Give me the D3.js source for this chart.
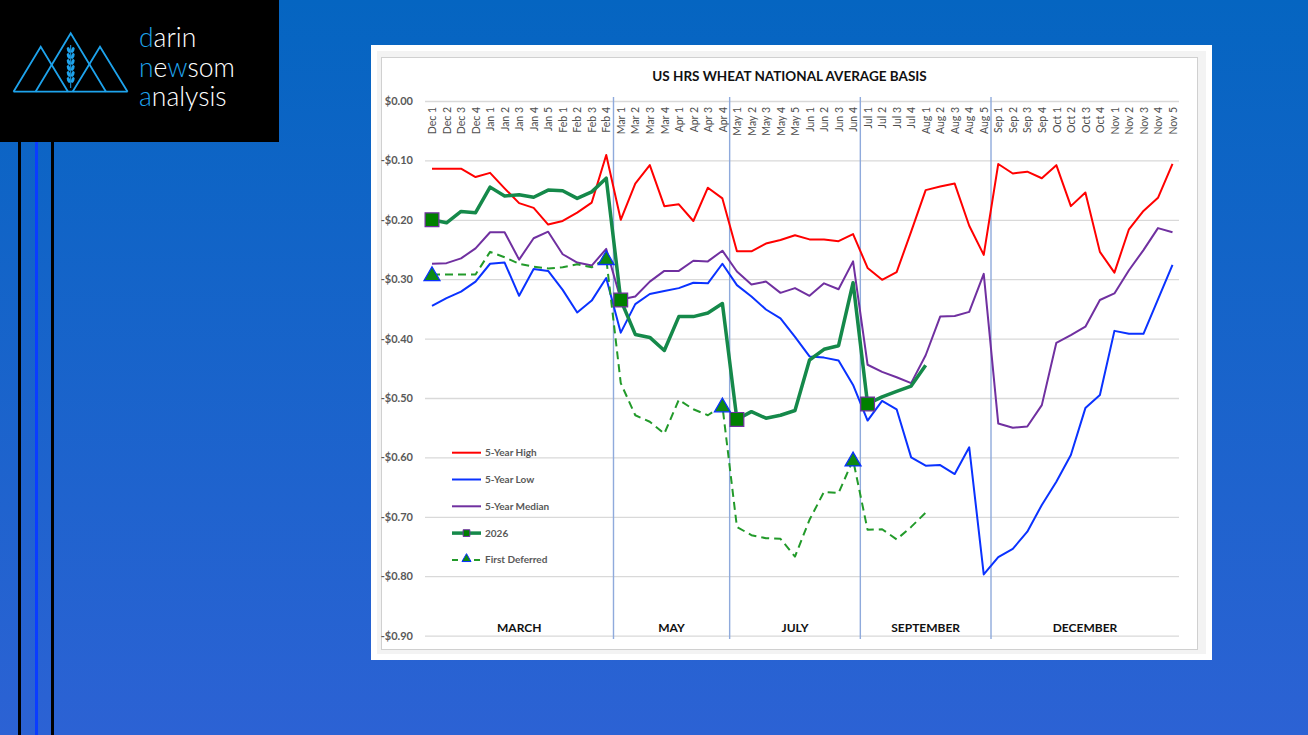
<html>
<head>
<script src="https://d3js.org/d3.v7.min.js"></script>
<style>
  body { margin: 0; overflow: hidden; }
  .grid .domain { stroke: none; }
  .grid line { stroke: #d9d9d9; }
  text { font-family: Lato, "Open Sans", sans-serif; }
</style>
</head>
<body>
<svg id="slide" width="1308" height="735"></svg>
<script>
// weekly categories along the x axis
const weeks = ["Dec 1","Dec 2","Dec 3","Dec 4","Jan 1","Jan 2","Jan 3","Jan 4","Jan 5",
  "Feb 1","Feb 2","Feb 3","Feb 4","Mar 1","Mar 2","Mar 3","Mar 4","Apr 1","Apr 2","Apr 3","Apr 4",
  "May 1","May 2","May 3","May 4","May 5","Jun 1","Jun 2","Jun 3","Jun 4","Jul 1","Jul 2","Jul 3","Jul 4",
  "Aug 1","Aug 2","Aug 3","Aug 4","Aug 5","Sep 1","Sep 2","Sep 3","Sep 4","Oct 1","Oct 2","Oct 3","Oct 4",
  "Nov 1","Nov 2","Nov 3","Nov 4","Nov 5"];

const high5 = [-0.114,-0.114,-0.114,-0.128,-0.121,-0.147,-0.172,-0.180,-0.208,-0.202,-0.188,-0.171,-0.091,
  -0.200,-0.139,-0.108,-0.177,-0.174,-0.202,-0.146,-0.164,-0.253,-0.253,-0.240,-0.234,-0.226,-0.233,-0.233,
  -0.236,-0.224,-0.281,-0.301,-0.288,-0.220,-0.150,-0.144,-0.139,-0.210,-0.259,-0.106,-0.122,-0.119,-0.130,
  -0.108,-0.177,-0.154,-0.254,-0.289,-0.216,-0.185,-0.163,-0.106];

const low5 = [-0.345,-0.332,-0.321,-0.304,-0.274,-0.272,-0.328,-0.283,-0.286,-0.318,-0.356,-0.336,-0.298,
  -0.390,-0.342,-0.325,-0.320,-0.315,-0.306,-0.307,-0.274,-0.310,-0.329,-0.351,-0.366,-0.397,-0.430,-0.432,
  -0.437,-0.478,-0.538,-0.505,-0.519,-0.600,-0.614,-0.613,-0.628,-0.583,-0.797,-0.768,-0.754,-0.725,-0.680,
  -0.641,-0.596,-0.517,-0.495,-0.387,-0.392,-0.392,-0.334,-0.276];

const median5 = [-0.274,-0.273,-0.265,-0.248,-0.221,-0.221,-0.267,-0.231,-0.220,-0.258,-0.272,-0.277,-0.249,
  -0.334,-0.329,-0.304,-0.286,-0.286,-0.269,-0.270,-0.252,-0.287,-0.309,-0.304,-0.323,-0.315,-0.328,-0.307,
  -0.317,-0.270,-0.444,-0.456,-0.465,-0.475,-0.428,-0.363,-0.362,-0.355,-0.291,-0.543,-0.550,-0.548,-0.512,
  -0.407,-0.394,-0.380,-0.335,-0.324,-0.285,-0.251,-0.214,-0.221];

const y2026 = [-0.200,-0.205,-0.186,-0.188,-0.145,-0.160,-0.158,-0.162,-0.150,-0.151,-0.164,-0.153,-0.130,
  -0.335,-0.393,-0.398,-0.420,-0.363,-0.363,-0.357,-0.341,-0.536,-0.523,-0.534,-0.529,-0.521,-0.436,-0.418,
  -0.412,-0.306,-0.510,-0.498,-0.489,-0.480,-0.445];

const firstDeferred = [-0.292,-0.292,-0.292,-0.292,-0.254,-0.263,-0.274,-0.279,-0.282,-0.280,-0.275,-0.280,-0.265,
  -0.475,-0.529,-0.540,-0.560,-0.503,-0.519,-0.529,-0.513,-0.717,-0.731,-0.736,-0.737,-0.767,-0.705,-0.658,
  -0.660,-0.604,-0.722,-0.721,-0.738,-0.717,-0.693];

// weeks that get a marker (contract roll points)
const squareWeeks = ["Dec 1","Mar 1","May 1","Jul 1"];
const triangleWeeks = ["Dec 1","Feb 4","Apr 4","Jun 4"];

// contract periods and the last week of each
const contracts = ["MARCH","MAY","JULY","SEPTEMBER","DECEMBER"];
const contractEnds = ["Feb 4","Apr 4","Jun 4","Aug 5"];

const yTicks = [0,-0.1,-0.2,-0.3,-0.4,-0.5,-0.6,-0.7,-0.8,-0.9];
const seriesNames = ["5-Year High","5-Year Low","5-Year Median","2026","First Deferred"];

const svg = d3.select("#slide");

// background
const defs = svg.append("defs");
const grad = defs.append("linearGradient").attr("id","bg").attr("x1",0).attr("y1",0).attr("x2",0).attr("y2",1);
grad.append("stop").attr("offset","0%").attr("stop-color","#0565c1");
grad.append("stop").attr("offset","100%").attr("stop-color","#2c62d4");
svg.append("rect").attr("width",1308).attr("height",735).attr("fill","url(#bg)");

// logo block
svg.append("rect").attr("width",279).attr("height",142).attr("fill","#000");
svg.append("rect").attr("x",18).attr("y",142).attr("width",3).attr("height",593).attr("fill","#000");
svg.append("rect").attr("x",35).attr("y",142).attr("width",3).attr("height",593).attr("fill","#0a3cff");
svg.append("rect").attr("x",51).attr("y",142).attr("width",3).attr("height",593).attr("fill","#000");

const logo = svg.append("g").attr("fill","none").attr("stroke","#1ea3ec").attr("stroke-width",1.8);
logo.append("path").attr("d","M13.5,91.7 L40.7,46.7 L68,91.7");
logo.append("path").attr("d","M35.5,91.7 L70.7,33.3 L106,91.7");
logo.append("path").attr("d","M72.6,91.7 L100,46.7 L127.6,91.7");
logo.append("path").attr("d","M13.5,91.7 L127.6,91.7");
logo.append("path").attr("d","M70.7,45 L70.7,88").attr("stroke-width",1);
[50,56,62,68,74,80].forEach(k => {
  logo.append("ellipse").attr("cx",68.6).attr("cy",k).attr("rx",1.6).attr("ry",3).attr("fill","#1ea3ec").attr("stroke","none")
    .attr("transform", `rotate(-20,68.6,${k})`);
  logo.append("ellipse").attr("cx",72.8).attr("cy",k).attr("rx",1.6).attr("ry",3).attr("fill","#1ea3ec").attr("stroke","none")
    .attr("transform", `rotate(20,72.8,${k})`);
});

const logoText = svg.append("g").style("font-size","26.5px").style("font-weight",300).attr("fill","#fff");
const words = [[["d",true],["arin",false]],[["n",true],["e",false],["w",true],["som",false]],[["a",true],["nalysis",false]]];
words.forEach((w, i) => {
  const t = logoText.append("text").attr("x",139).attr("y",47 + i * 29.5);
  w.forEach(p => t.append("tspan").text(p[0]).attr("fill", p[1] ? "#1ea3ec" : "#fff"));
});

// chart frame
svg.append("rect").attr("x",371).attr("y",45).attr("width",841).attr("height",615).attr("fill","#fff");
svg.append("rect").attr("x",377).attr("y",51).attr("width",829).attr("height",603).attr("fill","#f3f3f3");
svg.append("rect").attr("x",381.5).attr("y",57.5).attr("width",816).attr("height",592)
  .attr("fill","#fff").attr("stroke","#d0d0d0");

const x = d3.scalePoint().domain(weeks).range([432, 1172.5]);
const y = d3.scaleLinear().domain([-0.9, 0]).range([635.6, 101]);
const gridLeft = 425, gridRight = 1179;

const fmt = v => v === 0 ? "$0.00" : "-$" + Math.abs(v).toFixed(2);

const grid = svg.append("g").attr("class","grid")
  .attr("transform", `translate(${gridLeft},0)`)
  .call(d3.axisLeft(y).tickValues(yTicks).tickFormat(fmt)
    .tickSize(-(gridRight - gridLeft)).tickPadding(12));
grid.selectAll("text").style("font-size","11px").style("font-weight","bold").attr("fill","#595959");
grid.selectAll("line").attr("stroke-width",1.3);

// week labels along the top
const weekAxis = svg.append("g").attr("transform", `translate(0,${y(0)})`)
  .call(d3.axisTop(x).tickSize(0));
weekAxis.select(".domain").remove();
weekAxis.selectAll("text")
  .attr("transform","rotate(-90)")
  .attr("x",-6).attr("y",0).attr("dy","0.35em")
  .style("text-anchor","end").style("font-size","10.5px").attr("fill","#4d4d4d");

// contract separators
const step = x.step();
const sepX = contractEnds.map(w => x(w) + step / 2);
svg.selectAll("line.sep").data(sepX).join("line").attr("class","sep")
  .attr("x1", d => d).attr("x2", d => d).attr("y1",97).attr("y2",639)
  .attr("stroke","#8faadc").attr("stroke-width",1.4);

const bounds = [gridLeft, ...sepX, gridRight];
svg.selectAll("text.contract").data(contracts).join("text").attr("class","contract")
  .attr("x", (d, i) => (bounds[i] + bounds[i + 1]) / 2).attr("y",632)
  .attr("text-anchor","middle").style("font-size","12px").style("font-weight","bold")
  .attr("fill","#111").text(d => d);

// title
svg.append("text").attr("x",789.5).attr("y",81).attr("text-anchor","middle")
  .style("font-size","13.5px").style("font-weight","bold").attr("fill","#111")
  .text("US HRS WHEAT NATIONAL AVERAGE BASIS");

// series lines
const line = d3.line().x((d, i) => x(weeks[i])).y(d => y(d));
const series = [
  { name: seriesNames[0], values: high5, color: "#ff0000", width: 2, dash: null },
  { name: seriesNames[1], values: low5, color: "#0a32ff", width: 2, dash: null },
  { name: seriesNames[2], values: median5, color: "#7030a0", width: 2, dash: null },
  { name: seriesNames[3], values: y2026, color: "#15894a", width: 3.5, dash: null },
  { name: seriesNames[4], values: firstDeferred, color: "#229a2a", width: 2, dash: "8,5" }
];
svg.selectAll("path.series").data(series).join("path").attr("class","series")
  .attr("d", d => line(d.values)).attr("fill","none")
  .attr("stroke", d => d.color).attr("stroke-width", d => d.width)
  .attr("stroke-dasharray", d => d.dash).attr("stroke-linejoin","round");

// markers
const sq = d3.symbol().type(d3.symbolSquare).size(190);
const tri = d3.symbol().type(d3.symbolTriangle).size(110);
svg.selectAll("path.sq").data(squareWeeks).join("path").attr("class","sq")
  .attr("d", sq).attr("transform", d => `translate(${x(d)},${y(y2026[weeks.indexOf(d)])})`)
  .attr("fill","#008000").attr("stroke","#7030a0").attr("stroke-width",1.2);
svg.selectAll("path.tri").data(triangleWeeks).join("path").attr("class","tri")
  .attr("d", tri).attr("transform", d => `translate(${x(d)},${y(firstDeferred[weeks.indexOf(d)]) + 1.5})`)
  .attr("fill","#0e8a12").attr("stroke","#0a32ff").attr("stroke-width",1.3);

// legend
const legend = svg.append("g").attr("transform","translate(452,452.7)");
const items = legend.selectAll("g").data(series).join("g")
  .attr("transform", (d, i) => `translate(0,${i * 26.8})`);
items.append("line").attr("x1",0).attr("x2",29).attr("y1",0).attr("y2",0)
  .attr("stroke", d => d.color).attr("stroke-width", d => d.width === 3.5 ? 3.5 : 2)
  .attr("stroke-dasharray", d => d.dash ? "6,5" : null);
items.filter(d => d.name === "2026").append("path")
  .attr("d", d3.symbol().type(d3.symbolSquare).size(45)).attr("transform","translate(14.5,0)")
  .attr("fill","#008000").attr("stroke","#7030a0").attr("stroke-width",1);
items.filter(d => d.name === "First Deferred").append("path")
  .attr("d", d3.symbol().type(d3.symbolTriangle).size(36)).attr("transform","translate(14.5,-1)")
  .attr("fill","#0e8a12").attr("stroke","#0a32ff").attr("stroke-width",1);
items.append("text").attr("x",33).attr("y",0).attr("dy","0.35em")
  .style("font-size","10px").style("font-weight","bold").attr("fill","#595959")
  .text(d => d.name);
</script>
</body>
</html>
